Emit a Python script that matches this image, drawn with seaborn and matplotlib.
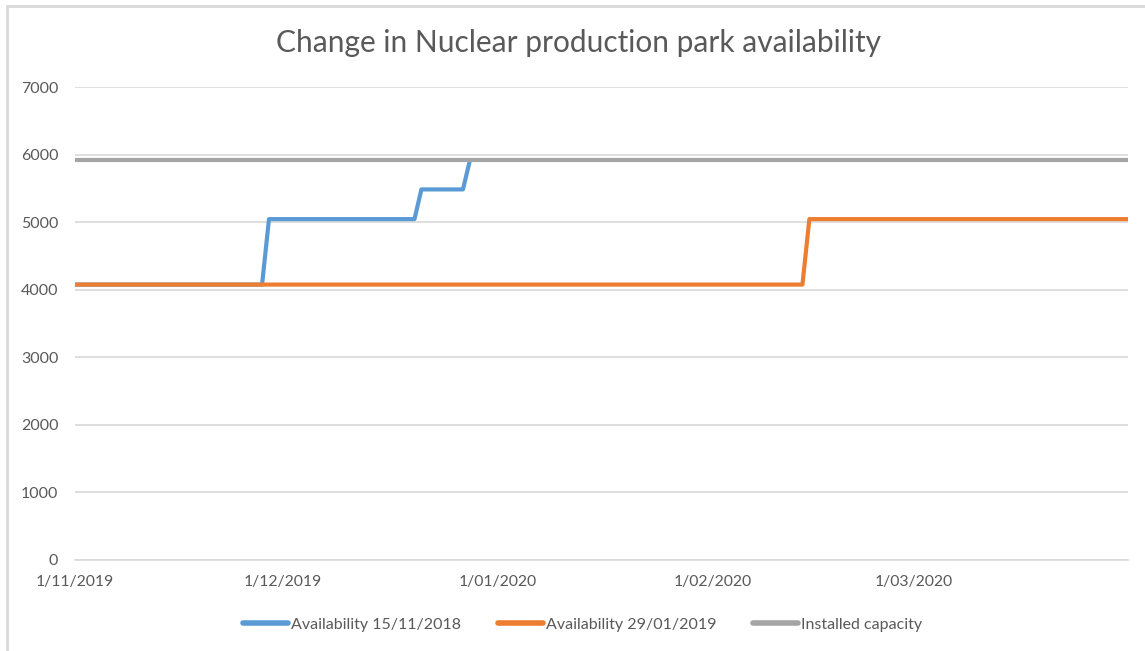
import numpy as np
import pandas as pd
import matplotlib
matplotlib.use("Agg")
import matplotlib.pyplot as plt
from matplotlib.patches import Rectangle
import seaborn as sns

# step points of each series (date, MW); jumps take one day
blue_dates = ["2019-11-01", "2019-11-28", "2019-11-29", "2019-12-20", "2019-12-21",
              "2019-12-27", "2019-12-28"]
blue_values = [4080, 4080, 5050, 5050, 5490, 5490, 5920]

orange_dates = ["2019-11-01", "2020-02-14", "2020-02-15", "2020-04-01"]
orange_values = [4080, 4080, 5050, 5050]

grey_dates = ["2019-11-01", "2020-04-01"]
grey_values = [5920, 5920]

series_names = ["Availability 15/11/2018", "Availability 29/01/2019", "Installed capacity"]
series_colors = ["#5B9BD5", "#ED7D31", "#A5A5A5"]

month_ticks = ["2019-11-01", "2019-12-01", "2020-01-01", "2020-02-01", "2020-03-01"]
month_labels = ["1/11/2019", "1/12/2019", "1/01/2020", "1/02/2020", "1/03/2020"]
y_ticks = [0, 1000, 2000, 3000, 4000, 5000, 6000, 7000]

title = "Change in Nuclear production park availability"


def main():
    frames = []
    for name, d, v in zip(series_names,
                          [blue_dates, orange_dates, grey_dates],
                          [blue_values, orange_values, grey_values]):
        frames.append(pd.DataFrame({"date": pd.to_datetime(d), "MW": v, "series": name}))
    df = pd.concat(frames, ignore_index=True)

    sns.set_style("white")
    plt.rcParams["font.family"] = ["Lato", "DejaVu Sans"]
    text_col = "#595959"
    grid_col = "#D9D9D9"

    fig = plt.figure(figsize=(11.45, 6.51), dpi=100)
    ax = fig.add_axes([0.0655, 0.1398, 0.9197, 0.7258])

    sns.lineplot(data=df, x="date", y="MW", hue="series", hue_order=series_names,
                 palette=series_colors, linewidth=3, ax=ax, sort=False,
                 estimator=None, legend=True)

    ax.set_xlim(pd.Timestamp("2019-11-01"), pd.Timestamp("2020-04-01"))
    ax.set_ylim(0, 7000)
    ax.set_yticks(y_ticks)
    ax.set_yticklabels([str(t) for t in y_ticks])
    ax.set_xticks(list(pd.to_datetime(month_ticks)) + [pd.Timestamp("2020-04-01")])
    ax.set_xticklabels(month_labels + [""])
    ax.set_xlabel("")
    ax.set_ylabel("")

    ax.grid(axis="y", color=grid_col, linewidth=1.2)
    ax.set_axisbelow(True)
    for s in ["left", "right", "top"]:
        ax.spines[s].set_visible(False)
    ax.spines["bottom"].set_color(grid_col)
    ax.spines["bottom"].set_linewidth(1.2)

    ax.tick_params(axis="x", colors=grid_col, length=5, width=1.2, direction="out",
                   labelcolor=text_col, labelsize=11.3, pad=6)
    ax.tick_params(axis="y", length=0, labelcolor=text_col, labelsize=11.5, pad=12)

    fig.text(0.505, 0.934, title, ha="center", va="center", fontsize=21.5, color=text_col)

    leg = ax.legend(loc="center", bbox_to_anchor=(0.482, -0.137), ncol=3, frameon=False,
                    fontsize=11.5, handlelength=2.8, handletextpad=0.2, columnspacing=2.3)
    for t in leg.get_texts():
        t.set_color(text_col)
    for ln in leg.get_lines():
        ln.set_linewidth(4)

    fig.patches.append(Rectangle((0.0061, -0.01), 1.0, 1.0008, transform=fig.transFigure,
                                 fill=False, edgecolor=grid_col, linewidth=2))

    fig.savefig("out.png", dpi=100)
    plt.close(fig)


if __name__ == "__main__":
    main()
